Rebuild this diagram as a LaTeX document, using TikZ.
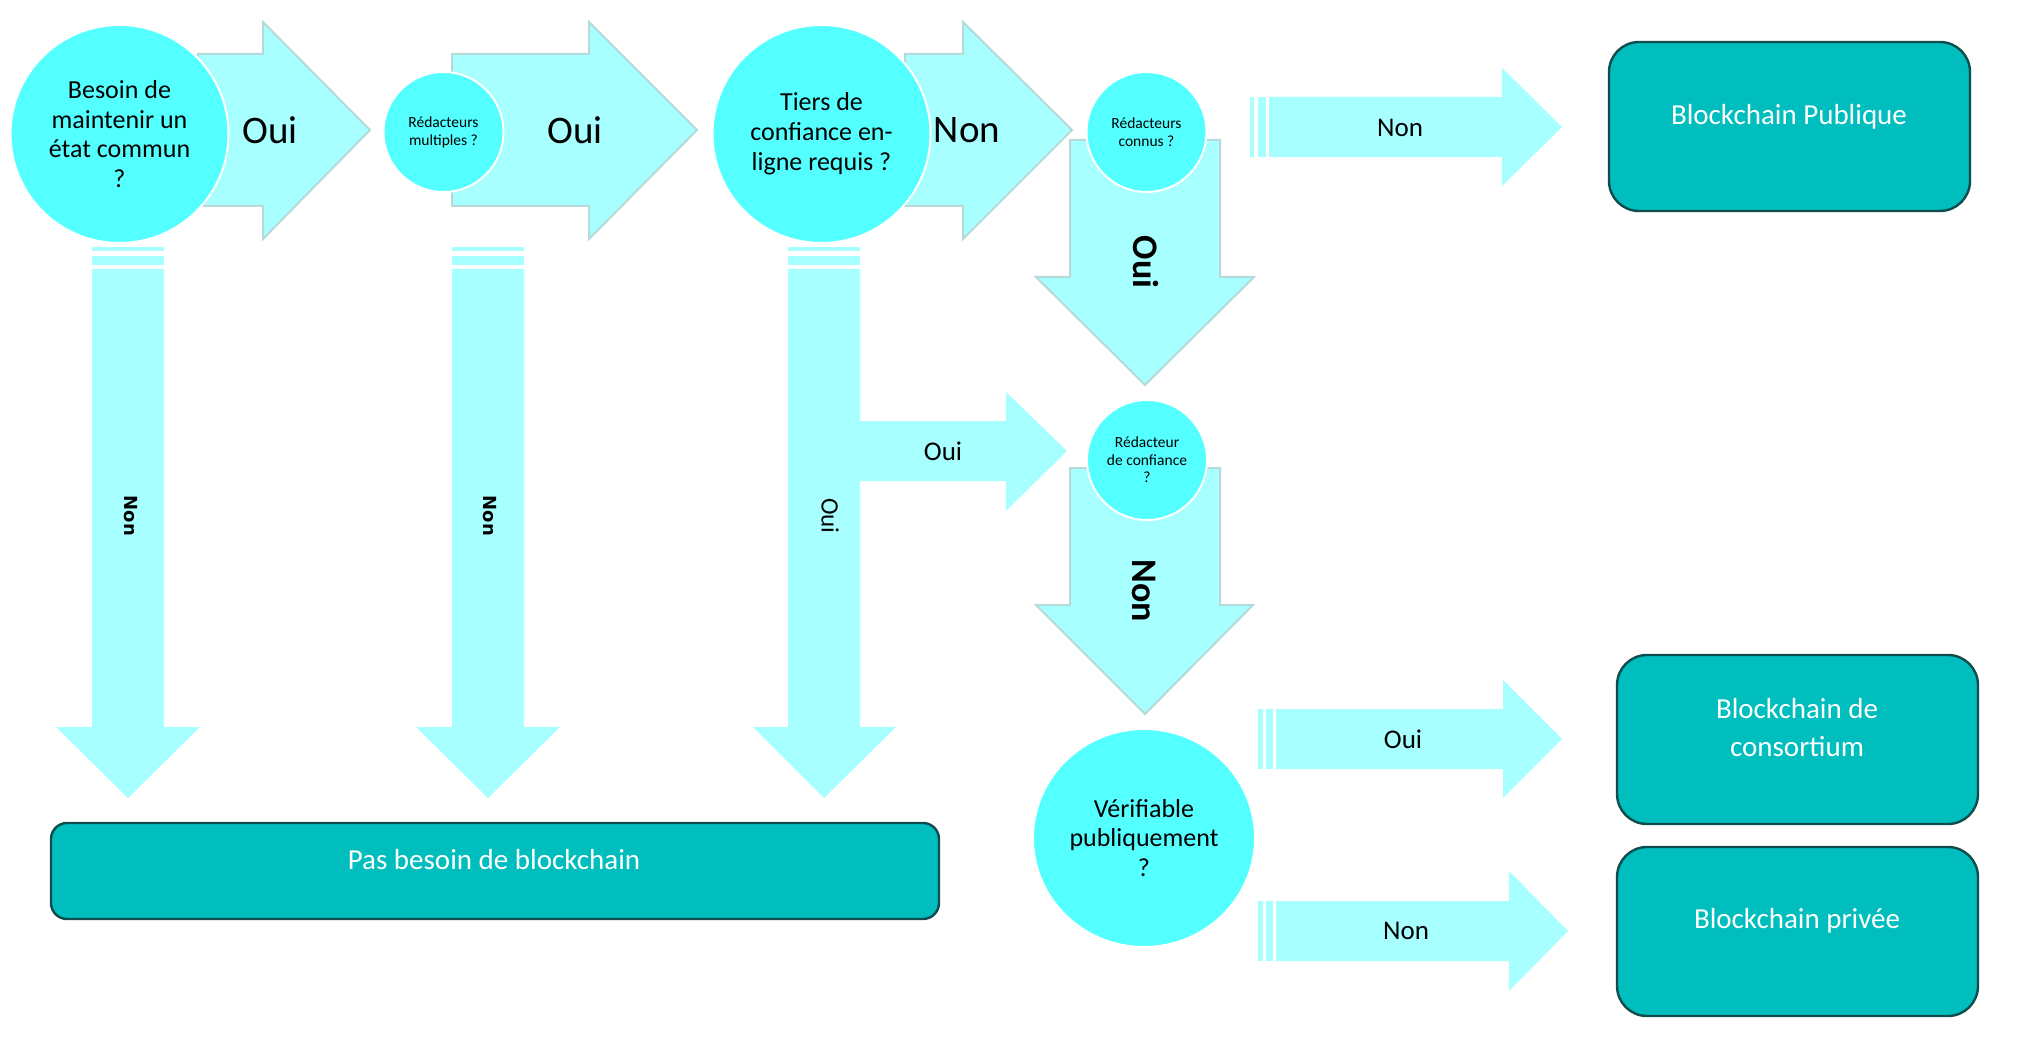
\documentclass[tikz,border=0pt]{standalone}
\usepackage{fontspec}
\setmainfont{Carlito}
\newfontfamily\labfont{DejaVu Sans}
\usetikzlibrary{shapes.geometric}
\definecolor{circc}{RGB}{84,255,255}
\definecolor{arrowc}{RGB}{168,255,255}
\definecolor{arrowline}{RGB}{182,218,218}
\definecolor{boxc}{RGB}{0,190,190}
\definecolor{boxline}{RGB}{14,76,78}
\tikzset{
  flatarrow/.style={fill=arrowc, draw=none},
  rimarrow/.style={fill=arrowc, draw=arrowline, line width=2pt, line join=miter},
  qcircle/.style={circle, fill=circc, draw=white, line width=2pt, inner sep=0pt, align=center, text=black},
  resbox/.style={rectangle, fill=boxc, draw=boxline, line width=2.4pt, inner sep=0pt},
  restext/.style={text=white, align=center, font=\fontsize{29}{38}\selectfont},
  biglab/.style={text=black, font=\fontsize{39}{44}\selectfont},
  boldlab/.style={text=black, font=\fontsize{36}{40}\selectfont\bfseries},
  midlab/.style={text=black, font=\fontsize{27}{30}\selectfont},
  smalllab/.style={text=black, font=\labfont\fontsize{18}{20}\selectfont\bfseries},
}
\begin{document}
\begin{tikzpicture}[x=1pt,y=-1pt]
\useasboundingbox[fill=white] (0,0) rectangle (2024,1048);

% vertical striped arrows
\foreach \xa/\xb/\ha/\hb/\tp in {92/164/56/200/128, 452/524/416/560/488}{
  \fill[arrowc] (\xa,247) rectangle (\xb,251);
  \fill[arrowc] (\xa,256) rectangle (\xb,265);
  \path[flatarrow] (\xa,269) -- (\xb,269) -- (\xb,727) -- (\hb,727) -- (\tp,798) -- (\ha,727) -- (\xa,727) -- cycle;
}
\fill[arrowc] (788,247) rectangle (860,251);
\fill[arrowc] (788,256) rectangle (860,265);
\path[flatarrow] (788,269) -- (860,269) -- (860,421) -- (1006,421) -- (1006,392) -- (1067,451) -- (1006,511) -- (1006,481) -- (860,481) -- (860,727) -- (896,727) -- (824,798) -- (753,727) -- (788,727) -- cycle;

% horizontal striped arrows
\fill[arrowc] (1250,97) rectangle (1254,157);
\fill[arrowc] (1258,97) rectangle (1266,157);
\path[flatarrow] (1269,97) -- (1502,97) -- (1502,68) -- (1562,127) -- (1502,186) -- (1502,157) -- (1269,157) -- cycle;
\fill[arrowc] (1258,709) rectangle (1263,769);
\fill[arrowc] (1266,709) rectangle (1273,769);
\path[flatarrow] (1276,709) -- (1503,709) -- (1503,680) -- (1562,739) -- (1503,798) -- (1503,769) -- (1276,769) -- cycle;
\fill[arrowc] (1258,901) rectangle (1263,961);
\fill[arrowc] (1266,901) rectangle (1273,961);
\path[flatarrow] (1276,901) -- (1509,901) -- (1509,871) -- (1568,931) -- (1509,991) -- (1509,961) -- (1276,961) -- cycle;

% top arrows with rim
\path[rimarrow] (198,54) -- (263,54) -- (263,22) -- (370,130) -- (263,239) -- (263,206) -- (198,206) -- cycle;
\path[rimarrow] (452,54) -- (589,54) -- (589,22) -- (697,130) -- (589,239) -- (589,206) -- (452,206) -- cycle;
\path[rimarrow] (905,54) -- (963,54) -- (963,22) -- (1072,130) -- (963,239) -- (963,206) -- (905,206) -- cycle;
% down arrows with rim
\path[rimarrow] (1070,140) -- (1220,140) -- (1220,277) -- (1254,277) -- (1145,385) -- (1036,277) -- (1070,277) -- cycle;
\path[rimarrow] (1070,468) -- (1220,468) -- (1220,605) -- (1253,605) -- (1145,714) -- (1036,605) -- (1070,605) -- cycle;

% question circles
\node[qcircle, minimum size=218pt, font=\fontsize{26}{29.5}\selectfont] (c1) at (119.5,134) {Besoin de\\maintenir un\\état commun\\?};
\node[qcircle, minimum size=120pt, font=\fontsize{15.5}{18}\selectfont] (c2) at (443.5,132) {Rédacteurs\\multiples ?};
\node[qcircle, minimum size=218pt, font=\fontsize{26}{30}\selectfont] (c3) at (821.5,134) {Tiers de\\confiance en-\\ligne requis ?};
\node[qcircle, minimum size=120pt, font=\fontsize{15.5}{18}\selectfont] (c4) at (1146.5,132) {Rédacteurs\\connus ?};
\node[qcircle, minimum size=120pt, font=\fontsize{15.5}{17.5}\selectfont] (c5) at (1147,460) {Rédacteur\\de confiance\\?};
\node[qcircle, ellipse, minimum width=222pt, minimum height=218pt, font=\fontsize{26}{29.5}\selectfont] (c6) at (1144,838) {Vérifiable\\publiquement\\?};

% result boxes
\node[resbox, rounded corners=16pt, minimum width=888pt, minimum height=96pt] (nb) at (495,871) {};
\node[resbox, rounded corners=30pt, minimum width=361pt, minimum height=169pt] (bp) at (1789.5,126.5) {};
\node[resbox, rounded corners=30pt, minimum width=361pt, minimum height=169pt] (bc) at (1797.5,739.5) {};
\node[resbox, rounded corners=30pt, minimum width=361pt, minimum height=169pt] (bv) at (1797.5,931.5) {};
\node[restext] (tnb) at (494,860) {Pas besoin de blockchain};
\node[restext] (tbp) at (1789,117) {Blockchain Publique};
\node[restext] (tbc) at (1797,728) {Blockchain de\\consortium};
\node[restext] (tbv) at (1797,921) {Blockchain privée};

% arrow labels
\node[biglab] (l1) at (270,130) {Oui};
\node[biglab] (l2) at (575,130) {Oui};
\node[biglab] (l3) at (967,130) {Non};
\node[boldlab, rotate=-90] (l4) at (1146,262) {Oui};
\node[boldlab, rotate=-90] (l5) at (1144,591) {Non};
\node[midlab] (l6) at (1400,128) {Non};
\node[midlab] (l7) at (943,451) {Oui};
\node[midlab] (l8) at (1403,739) {Oui};
\node[midlab] (l9) at (1406,931) {Non};
\node[smalllab, rotate=-90] (l10) at (131,516) {Non};
\node[smalllab, rotate=-90] (l11) at (490,516) {Non};
\node[midlab, rotate=-90, font=\fontsize{25}{28}\selectfont] (l12) at (830,516) {Oui};
\end{tikzpicture}
\end{document}
